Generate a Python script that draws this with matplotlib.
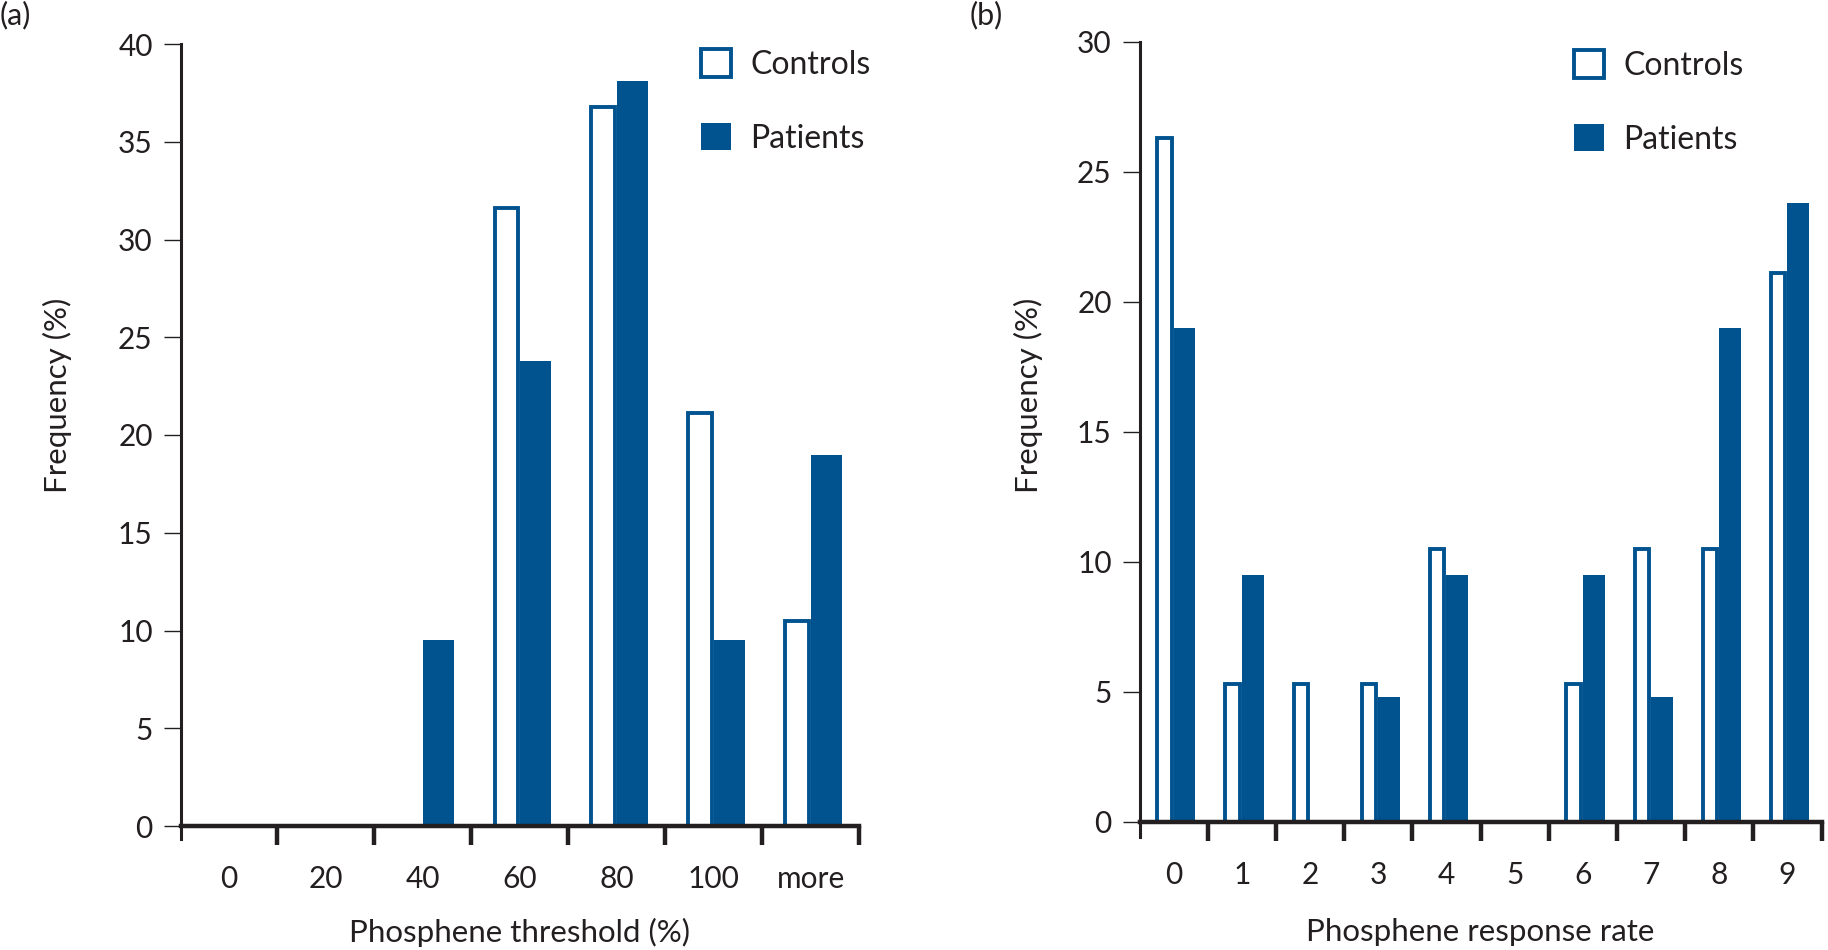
import matplotlib
matplotlib.use('Agg')
import matplotlib.pyplot as plt
import numpy as np

# % of subjects per bin, controls n=19, patients n=21
threshold_bins = ['0', '20', '40', '60', '80', '100', 'more']
threshold_controls = [0, 0, 0, 31.6, 36.8, 21.1, 10.5]
threshold_patients = [0, 0, 9.5, 23.8, 38.1, 9.5, 19.0]

rate_bins = ['0', '1', '2', '3', '4', '5', '6', '7', '8', '9']
rate_controls = [26.3, 5.3, 5.3, 5.3, 10.5, 0, 5.3, 10.5, 10.5, 21.1]
rate_patients = [19.0, 9.5, 0, 4.8, 9.5, 0, 9.5, 4.8, 19.0, 23.8]

blue = '#00538f'
ink = '#231f20'

plt.rcParams['font.family'] = ['Lato', 'DejaVu Sans']
plt.rcParams['font.weight'] = 'normal'
plt.rcParams['text.color'] = ink

fig = plt.figure(figsize=(18.28, 9.5), dpi=100)
W, H = 1828.0, 950.0

def px_axes(x0, y0, x1, y1):
    # pixel box (top-left origin) -> figure fraction
    return fig.add_axes([x0 / W, 1 - y1 / H, (x1 - x0) / W, (y1 - y0) / H])

def draw_panel(ax, cats, controls, patients, ymax, ystep, wc, gap, xlabel, xpad, spine_ext, ylab_x, ylab_y):
    pos = np.arange(len(cats)) + 0.5
    ax.bar(pos - wc - gap, controls, width=wc, align='edge', facecolor='white',
           edgecolor=blue, linewidth=2.8, label='Controls', zorder=1)
    ax.bar(pos, patients, width=0.32, align='edge', color=blue, linewidth=0,
           label='Patients', zorder=2)
    ax.set_xlim(0, len(cats))
    ax.set_ylim(0, ymax)
    ax.spines['top'].set_visible(False)
    ax.spines['right'].set_visible(False)
    ax.spines['left'].set_linewidth(2.2)
    ax.spines['bottom'].set_linewidth(3.2)
    ax.spines['left'].set_color(ink)
    ax.spines['bottom'].set_color(ink)
    ax.spines['left'].set_bounds(-spine_ext, ymax)
    ax.set_yticks(np.arange(0, ymax + 1, ystep))
    ax.tick_params(axis='y', direction='out', length=12, width=1, color=ink,
                   labelsize=21.5, pad=8, labelcolor=ink)
    ax.set_xticks(np.arange(1, len(cats) + 1))
    ax.set_xticklabels([])
    ax.tick_params(axis='x', which='major', direction='out', length=13.7, width=3.2, color=ink)
    ax.set_xticks(pos, minor=True)
    ax.set_xticklabels(cats, minor=True)
    ax.tick_params(axis='x', which='minor', length=0, labelsize=21.5, pad=28, labelcolor=ink)
    ax.set_xlabel(xlabel, fontsize=22.5, labelpad=xpad, color=ink)
    ax.set_ylabel('Frequency (%)', fontsize=22.5, color=ink)
    ax.yaxis.set_label_coords(ylab_x, ylab_y)
    ax.yaxis.label.set_va('center')
    ax.set_facecolor('none')

ax1 = px_axes(180.5, 44, 859, 826)
draw_panel(ax1, threshold_bins, threshold_controls, threshold_patients, 40, 5,
           0.24, 0.02, 'Phosphene threshold (%)', 18, 0.66, -0.181, 0.551)

ax2 = px_axes(1139.5, 41.7, 1821.5, 821.7)
draw_panel(ax2, rate_bins, rate_controls, rate_patients, 30, 5,
           0.21, 0.03, 'Phosphene response rate', 21, 0.6, -0.163, 0.546)

for ax, x, y in [(ax1, 701, 49), (ax2, 1574, 50)]:
    ax.legend(loc='upper left', bbox_to_anchor=(x / W, 1 - y / H), bbox_transform=fig.transFigure,
              frameon=False, fontsize=23, handlelength=0.95, handleheight=0.95,
              handletextpad=0.6, labelspacing=1.35, borderpad=0, borderaxespad=0)

fig.text(0 / W, 1 - 15 / H, '(a)', fontsize=22, va='center', ha='left')
fig.text(970 / W, 1 - 15 / H, '(b)', fontsize=22, va='center', ha='left')

fig.savefig('out.png', dpi=100)
